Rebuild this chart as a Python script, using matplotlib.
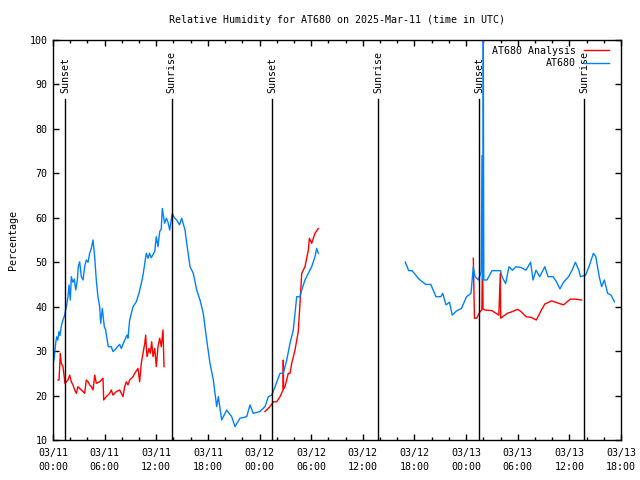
import numpy as np
import pandas as pd
import matplotlib
matplotlib.use("Agg")
import matplotlib.pyplot as plt
import matplotlib.dates as mdates

plt.rcParams['font.family'] = ['DejaVu Sans Mono']

base = pd.Timestamp("2025-03-11 00:00")

# Observed (AT680) - hours since 03/11 00:00 UTC, NaN breaks gaps
obs_hours = [0.12, 0.31, 0.43, 0.56, 0.70, 0.81, 0.96, 1.08, 1.35, 1.55, 1.74, 1.86, 2.01, 2.13, 2.30, 2.48, 2.64, 2.83, 2.94, 3.10, 3.29, 3.49, 3.68, 3.87, 4.07, 4.26, 4.45, 4.65, 4.84, 5.03, 5.22, 5.42, 5.54, 5.73, 5.96, 6.12, 6.23, 6.43, 6.77, 6.97, 7.29, 7.48, 7.75, 7.94, 8.33, 8.60, 8.71, 8.91, 9.30, 9.68, 9.99, 10.26, 10.46, 10.66, 10.84, 11.05, 11.22, 11.41, 11.82, 12.00, 12.20, 12.40, 12.58, 12.70, 12.97, 13.17, 13.36, 13.56, 13.86, 14.10, 14.37, 14.70, 14.95, 15.34, 15.54, 15.92, 16.30, 16.70, 17.08, 17.46, 17.86, 18.24, 18.63, 19.02, 19.21, 19.60, 20.18, 20.76, 21.15, 21.73, 22.51, 22.89, 23.27, 24.05, 24.63, 25.02, 25.41, 25.80, 26.38, 26.76, 27.16, 27.54, 27.92, 28.32, 28.70, 28.90, 29.28, 29.67, 30.06, 30.44, 30.64, 30.83,
             35.0,
             40.94, 41.33, 41.72, 42.53, 43.31, 43.90, 44.50, 45.08, 45.28, 45.67, 46.07, 46.39, 46.86, 47.46, 48.05, 48.57, 48.84, 49.04, 49.43, 49.76, 49.85, 49.94, 50.00, 50.06, 50.43, 51.01, 52.00, 52.17, 52.59, 52.99, 53.38, 53.79, 54.38, 54.96, 55.49, 55.78, 56.12, 56.55, 57.15, 57.52, 58.10, 58.53, 58.91, 59.32, 59.91, 60.31, 60.70, 61.10, 61.29, 61.89, 62.28, 62.79, 63.07, 63.47, 63.75, 64.06, 64.45, 64.84, 65.24]
obs_values = [28.0, 31.8, 33.2, 32.5, 34.4, 33.5, 35.5, 36.5, 38.1, 40.0, 42.25, 44.9, 41.5, 46.75, 45.5, 46.2, 43.75, 46.0, 49.0, 50.1, 46.75, 46.0, 49.0, 50.5, 50.0, 52.0, 53.1, 55.0, 51.25, 46.0, 42.25, 40.0, 36.25, 39.6, 35.5, 34.75, 33.25, 31.0, 31.0, 29.9, 30.5, 31.0, 31.5, 30.6, 32.5, 33.6, 32.9, 37.0, 40.0, 41.1, 43.0, 45.25, 47.1, 49.75, 52.0, 50.9, 52.0, 51.0, 52.4, 55.75, 53.5, 56.9, 57.5, 62.1, 58.75, 59.9, 59.0, 57.25, 61.0, 60.0, 59.5, 58.4, 59.9, 57.25, 54.25, 49.0, 47.5, 43.75, 41.5, 38.5, 32.5, 27.25, 23.5, 17.5, 19.75, 14.5, 16.75, 15.25, 13.0, 14.9, 15.25, 17.9, 16.0, 16.4, 17.5, 19.75, 20.1, 22.0, 25.0, 25.0, 28.0, 31.75, 34.75, 42.25, 42.25, 43.75, 46.0, 47.5, 49.0, 51.25, 53.1, 52.0,
              np.nan,
              50.0, 48.1, 48.1, 46.2, 45.0, 45.0, 42.25, 42.25, 43.0, 40.4, 41.0, 38.1, 39.0, 39.6, 42.25, 43.0, 49.0, 46.75, 46.0, 47.9, 74.0, 46.0, 100.0, 46.0, 46.0, 48.1, 48.1, 46.75, 45.2, 49.0, 48.2, 49.0, 48.8, 48.2, 50.0, 46.0, 48.2, 46.75, 49.0, 46.75, 46.75, 45.5, 44.0, 45.5, 46.75, 48.2, 50.0, 48.2, 46.75, 47.1, 49.0, 52.0, 51.25, 46.75, 44.5, 46.0, 43.0, 42.6, 41.1]

# Analysis (AT680 Analysis)
ana_hours = [0.58, 0.70, 0.85, 0.96, 1.16, 1.28, 1.39, 1.55, 1.74, 1.94, 2.13, 2.32, 2.52, 2.71, 2.90, 3.10, 3.29, 3.49, 3.68, 3.87, 4.07, 4.26, 4.45, 4.65, 4.85, 5.03, 5.43, 5.81, 5.89, 6.19, 6.59, 6.77, 6.97, 7.36, 7.75, 7.94, 8.13, 8.33, 8.52, 8.71, 8.91, 9.30, 9.49, 9.88, 10.07, 10.26, 10.46, 10.66, 10.77, 10.92, 11.15, 11.31, 11.47, 11.62, 11.82, 12.00, 12.20, 12.40, 12.58, 12.78, 12.90,
             18.0,
             24.63, 25.21, 25.60, 25.99, 26.38, 26.73, 26.76, 26.79, 26.96, 27.34, 27.54, 27.74, 28.12, 28.50, 28.70, 28.90, 29.28, 29.67, 29.79, 30.06, 30.44, 30.83,
             40.0,
             48.84, 48.97, 49.23, 49.63, 49.83, 49.91, 49.97, 50.20, 51.01, 51.80, 51.98, 52.02, 52.79, 53.38, 53.99, 54.38, 54.96, 55.54, 56.16, 56.75, 57.15, 57.94, 58.53, 59.32, 60.11, 60.70, 61.41]
ana_values = [23.5, 23.5, 29.5, 27.25, 26.5, 24.6, 22.75, 23.1, 23.5, 24.6, 23.1, 22.4, 21.25, 20.5, 22.0, 21.6, 21.25, 20.9, 20.5, 23.5, 23.1, 22.4, 22.0, 21.25, 24.6, 22.75, 23.1, 23.9, 19.0, 19.75, 20.5, 21.25, 20.1, 20.9, 21.25, 20.5, 19.75, 22.0, 23.1, 22.4, 23.5, 24.25, 25.0, 26.1, 23.1, 27.25, 29.5, 31.75, 33.6, 28.75, 30.6, 29.5, 32.1, 28.75, 30.6, 26.5, 31.0, 32.9, 31.0, 34.75, 26.5,
              np.nan,
              16.4, 17.5, 18.6, 18.6, 19.75, 21.25, 28.0, 21.5, 22.0, 25.0, 25.0, 27.25, 30.25, 34.4, 40.75, 47.5, 49.0, 52.75, 55.4, 54.25, 56.5, 57.6,
              np.nan,
              50.9, 37.4, 37.4, 38.9, 39.25, 52.0, 39.5, 39.25, 39.1, 38.1, 47.5, 37.4, 38.5, 38.9, 39.4, 38.9, 37.75, 37.6, 37.0, 39.25, 40.6, 41.3, 40.9, 40.4, 41.7, 41.7, 41.5]

sun_hours = [1.43, 13.79, 25.48, 37.80, 49.54, 61.74]
sun_labels = ["Sunset", "Sunrise", "Sunset", "Sunrise", "Sunset", "Sunrise"]

def to_time(h):
    return base + pd.to_timedelta(np.asarray(h, dtype=float), unit="h")

fig = plt.figure(figsize=(6.4, 4.8), dpi=100)
ax = fig.add_axes([53/640, 1-440/480, 568/640, 400/480])

ax.plot(to_time(ana_hours), ana_values, color="#ff0000", lw=1.0, label="AT680 Analysis")
ax.plot(to_time(obs_hours), obs_values, color="#0080ff", lw=1.0, label="AT680")

for h, lab in zip(sun_hours, sun_labels):
    t = to_time([h])[0]
    ax.plot([t, t], [10, 86.8], color="black", lw=1.0)
    ax.text(t, 88.0, lab, rotation=90, ha="center", va="bottom", fontsize=7.2)

ax.set_xlim(base, base + pd.Timedelta(hours=66))
ax.set_ylim(10, 100)
ax.set_yticks(np.arange(10, 101, 10))
ax.xaxis.set_major_locator(mdates.HourLocator(byhour=[0, 6, 12, 18]))
ax.xaxis.set_minor_locator(mdates.HourLocator(byhour=range(0, 24, 2)))
ax.xaxis.set_major_formatter(mdates.DateFormatter("%m/%d\n%H:%M"))
ax.tick_params(which="both", direction="in", top=True, right=True, labelsize=7.2, width=1.0)
ax.tick_params(which="major", length=4.5, pad=4)
ax.tick_params(axis="x", which="major", pad=5.5)
ax.tick_params(which="minor", length=2.3)
for s in ax.spines.values():
    s.set_linewidth(1.0)

ax.set_title("Relative Humidity for AT680 on 2025-Mar-11 (time in UTC)", fontsize=7.2, pad=12.5)
ax.set_ylabel("Percentage", fontsize=7.2, labelpad=8)

leg = ax.legend(loc="upper right", frameon=False, fontsize=7.2, markerfirst=False,
                handlelength=2.5, borderaxespad=0.0, labelspacing=0.25, handletextpad=0.8,
                bbox_to_anchor=(1 - 8/568, 1 - 2/400))
for t in leg.get_texts():
    t.set_ha("right")

fig.canvas.draw()
for lab in ax.get_xticklabels():
    lab.set_linespacing(1.55)

fig.savefig("out.png", dpi=100)
